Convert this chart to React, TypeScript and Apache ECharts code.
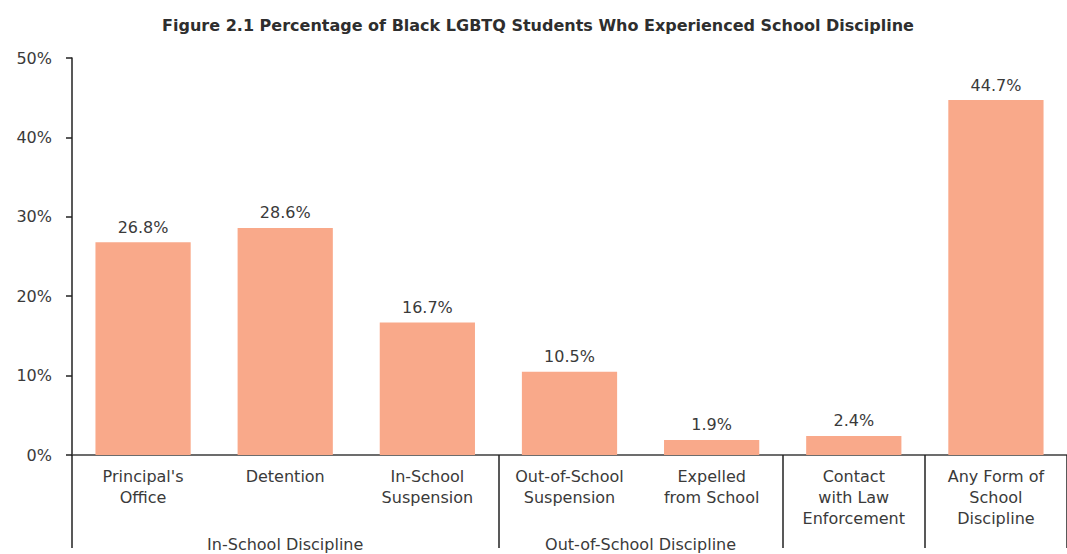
import React, { useEffect, useRef } from "react";
import * as echarts from "echarts";

const titleText = "Figure 2.1 Percentage of Black LGBTQ Students Who Experienced School Discipline";
const categories = [
  "Principal's\nOffice",
  "Detention",
  "In-School\nSuspension",
  "Out-of-School\nSuspension",
  "Expelled\nfrom School",
  "Contact\nwith Law\nEnforcement",
  "Any Form of\nSchool\nDiscipline",
];
const values = [26.8, 28.6, 16.7, 10.5, 1.9, 2.4, 44.7];
const groupLabels = ["In-School Discipline", "Out-of-School Discipline"];
// group spans as [first category index, last category index]
const groupSpans = [
  [0, 2],
  [3, 4],
];
// category boundaries (tick index) where separators are drawn
const separatorTicks = [0, 3, 5, 6];

const FONT = "DejaVu Sans";
const TEXT = "#3a3a3a";
const AXIS = "#3d3d3d";
const FS = 16;

export default function App() {
  const ref = useRef<HTMLDivElement>(null);
  useEffect(() => {
    const el = ref.current!;
    const chart = echarts.init(el, null, { renderer: "svg" });
    chart.setOption({
      animation: false,
      backgroundColor: "#ffffff",
      title: {
        text: titleText,
        left: 533,
        top: 12,
        textAlign: "center",
        textStyle: { fontFamily: FONT, fontWeight: "bold", fontSize: 16, color: "#2e2e2e" },
      },
      grid: { left: 72, right: -6, top: 58, bottom: 99, containLabel: false },
      xAxis: {
        type: "category",
        data: categories,
        axisLine: { show: true, lineStyle: { color: AXIS, width: 1.5 } },
        axisTick: {
          show: true,
          length: 93,
          interval: (i: number) => separatorTicks.includes(i),
          lineStyle: { color: "#222", width: 1.5 },
        },
        axisLabel: {
          interval: 0,
          margin: 11,
          fontFamily: FONT,
          fontSize: FS,
          lineHeight: 21,
          color: TEXT,
        },
      },
      yAxis: {
        type: "value",
        min: 0,
        max: 50,
        interval: 10,
        splitLine: { show: false },
        axisLine: { show: true, lineStyle: { color: "#222", width: 1.5 } },
        axisTick: { show: true, length: 6, lineStyle: { color: "#222", width: 1.5 } },
        axisLabel: {
          formatter: "{value}%",
          margin: 20,
          fontFamily: FONT,
          fontSize: FS,
          color: TEXT,
        },
      },
      series: [
        {
          type: "bar",
          data: values,
          barCategoryGap: "33%",
          itemStyle: { color: "#F9A98A" },
          label: {
            show: true,
            position: "top",
            distance: 7,
            formatter: (p: any) => p.value.toFixed(1) + "%",
            fontFamily: FONT,
            fontSize: FS,
            color: TEXT,
          },
        },
      ],
    });

    const centerOf = (i: number) => chart.convertToPixel({ xAxisIndex: 0 }, i) as number;
    chart.setOption({
      graphic: groupSpans.map((s, k) => ({
        type: "text",
        x: (centerOf(s[0]) + centerOf(s[1])) / 2,
        y: 536,
        style: {
          text: groupLabels[k],
          fontFamily: FONT,
          fontSize: FS,
          fill: TEXT,
          textAlign: "center",
          textVerticalAlign: "top",
        },
      })),
    });
    return () => chart.dispose();
  }, []);
  return (
    <div
      ref={ref}
      style={{ position: "absolute", left: 0, top: 0, width: 1067, height: 554 }}
    />
  );
}
